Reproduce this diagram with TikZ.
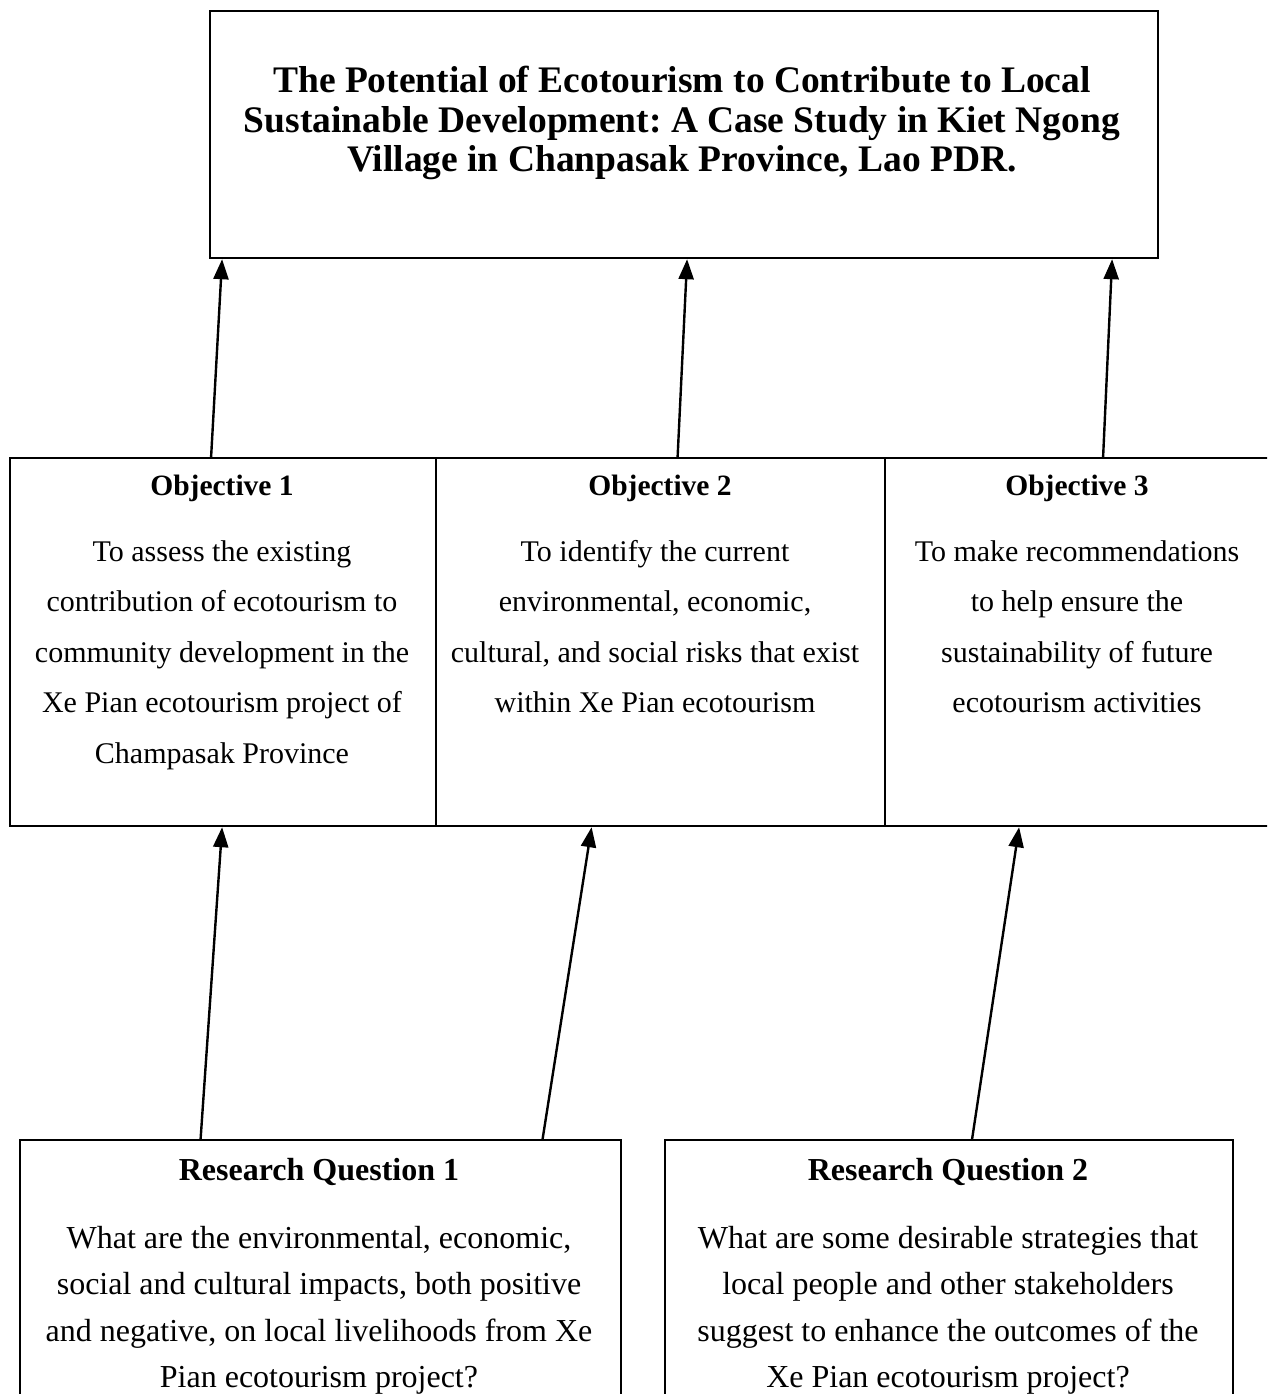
\documentclass[tikz,border=0pt]{standalone}
\usepackage{fontspec}
\setmainfont{Liberation Serif}
\usetikzlibrary{arrows.meta,calc}
\frenchspacing
\begin{document}
\begin{tikzpicture}[x=1pt,y=-1pt,
  box/.style={draw=black,line width=2.2pt,rectangle,inner sep=0pt,anchor=north west},
  arr/.style={line width=2.4pt,-{Triangle[length=20pt,width=15pt]}},
  body/.style={align=center,font=\fontsize{30}{50.5}\selectfont,anchor=base,inner sep=0pt},
  rqbody/.style={align=center,font=\fontsize{32}{46.5}\selectfont,anchor=base,inner sep=0pt},
  head/.style={align=center,font=\bfseries\fontsize{29.5}{34}\selectfont,anchor=base,inner sep=0pt},
  rqhead/.style={align=center,font=\bfseries\fontsize{32}{36}\selectfont,anchor=base,inner sep=0pt}]
\useasboundingbox (0,0) rectangle (1267,1394);
\clip (0,0) rectangle (1267,1394);
% boxes
\node[box,minimum width=948pt,minimum height=247pt] (title) at (209,10) {};
\node[box,minimum width=426pt,minimum height=368pt] (obj1) at (9,457) {};
\node[box,minimum width=449pt,minimum height=368pt] (obj2) at (435,457) {};
\node[box,minimum width=420pt,minimum height=368pt] (obj3) at (884,457) {};
\node[box,minimum width=601pt,minimum height=300pt] (rq1) at (19,1139) {};
\node[box,minimum width=568pt,minimum height=300pt] (rq2) at (664,1139) {};
% title text (anchor = baseline of last line)
\node[align=center,font=\bfseries\fontsize{37.5}{39}\selectfont,anchor=base,inner sep=0pt] (ttext) at (682,171)
 {The Potential of Ecotourism to Contribute to Local\\Sustainable Development: A Case Study in Kiet Ngong\\Village in Chanpasak Province, Lao PDR.};
% objectives
\node[head] (h1) at (222,495) {Objective 1};
\node[head] (h2) at (660,495) {Objective 2};
\node[head] (h3) at (1077,495) {Objective 3};
\node[body] (t1) at (222,763) {To assess the existing\\contribution of ecotourism to\\community development in the\\Xe Pian ecotourism project of\\Champasak Province};
\node[body] (t2) at (655,712.5) {To identify the current\\environmental, economic,\\cultural, and social risks that exist\\within Xe Pian ecotourism};
\node[body] (t3) at (1077,712.5) {To make recommendations\\to help ensure the\\sustainability of future\\ecotourism activities};
% research questions
\node[rqhead] (r1) at (319,1180) {Research Question 1};
\node[rqhead] (r2) at (948,1180) {Research Question 2};
\node[rqbody] (q1) at (319,1387.5) {What are the environmental, economic,\\social and cultural impacts, both positive\\and negative, on local livelihoods from Xe\\Pian ecotourism project?};
\node[rqbody] (q2) at (948,1387.5) {What are some desirable strategies that\\local people and other stakeholders\\suggest to enhance the outcomes of the\\Xe Pian ecotourism project?};
% connectors
\draw[arr] ([xshift=-12pt]obj1.north) -- ([xshift=-462pt]title.south);
\draw[arr] ([xshift=17pt]obj2.north) -- ([xshift=3pt]title.south);
\draw[arr] ([xshift=8pt]obj3.north) -- ([xshift=428pt]title.south);
\draw[arr] ([xshift=-120pt]rq1.north) -- ([xshift=-1pt]obj1.south);
\draw[arr] ([xshift=222pt]rq1.north) -- ([xshift=-69pt]obj2.south);
\draw[arr] ([xshift=23pt]rq2.north) -- ([xshift=-76pt]obj3.south);
\end{tikzpicture}
\end{document}
